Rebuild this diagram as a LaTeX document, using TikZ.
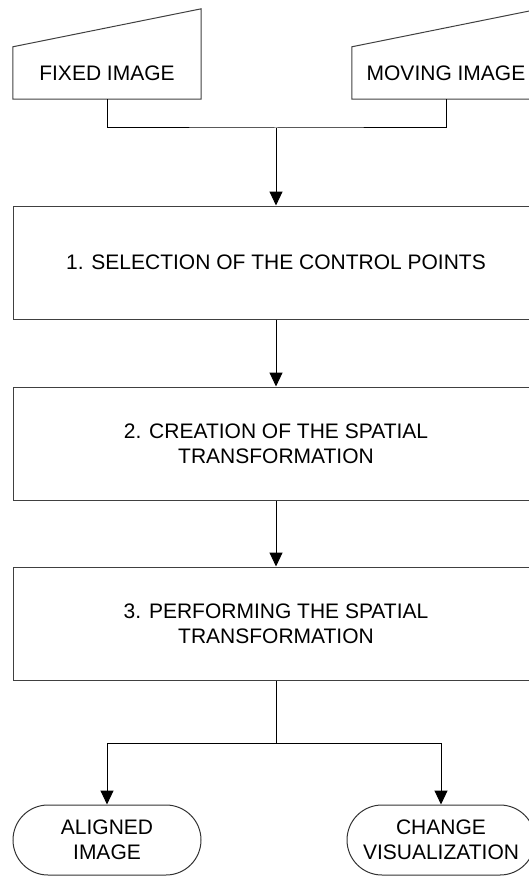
\documentclass[tikz,border=0pt]{standalone}
\usepackage{fontspec}
\setmainfont{Liberation Sans}
\usetikzlibrary{arrows.meta}

\begin{document}
\begin{tikzpicture}[x=1pt, y=-1pt,
  every node/.style={inner sep=0pt, align=center, font=\fontsize{21}{25}\selectfont},
  stepbox/.style={draw=black!75, line width=1pt, minimum width=526pt, minimum height=113pt},
  inputbox/.style={minimum width=188pt, minimum height=52pt},
  terminal/.style={draw=black!80, line width=1pt, rounded corners=35pt, minimum width=188pt, minimum height=70pt},
  link/.style={line width=1pt, black},
  flow/.style={link, -{Triangle[length=14pt, width=13pt]}}
]
\useasboundingbox (0,0) rectangle (529,880);

% manual-input shapes for the two source images
\node[inputbox] (fixed)  at (107,73) {FIXED IMAGE};
\node[inputbox] (moving) at (446,73) {MOVING IMAGE};
\foreach \n in {fixed, moving}
  \draw[draw=black!75, line width=1pt]
    (\n.south west) -- (\n.north west) -- ([yshift=38pt]\n.north east)
    -- (\n.south east) -- cycle;

% processing steps
\node[stepbox] (s1) at (276,262.5) {1. SELECTION OF THE CONTROL POINTS};
\node[stepbox] (s2) at (276,443.5) {2. CREATION OF THE SPATIAL\\TRANSFORMATION};
\node[stepbox] (s3) at (276,623.5) {3. PERFORMING THE SPATIAL\\TRANSFORMATION};

% results
\node[terminal] (aligned) at (107,840) {ALIGNED\\IMAGE};
\node[terminal] (change)  at (441,840) {CHANGE\\VISUALIZATION};

% connectors
\coordinate (join)  at (276,128);
\coordinate (split) at (276,743);
\draw[link] (fixed.south) |- (join) -| (moving.south);
\draw[flow] (join) -- (s1.north);
\draw[flow] (s1.south) -- (s2.north);
\draw[flow] (s2.south) -- (s3.north);
\draw[link] (s3.south) -- (split);
\draw[flow] (split) -| (aligned.north);
\draw[flow] (split) -| (change.north);
\end{tikzpicture}
\end{document}
